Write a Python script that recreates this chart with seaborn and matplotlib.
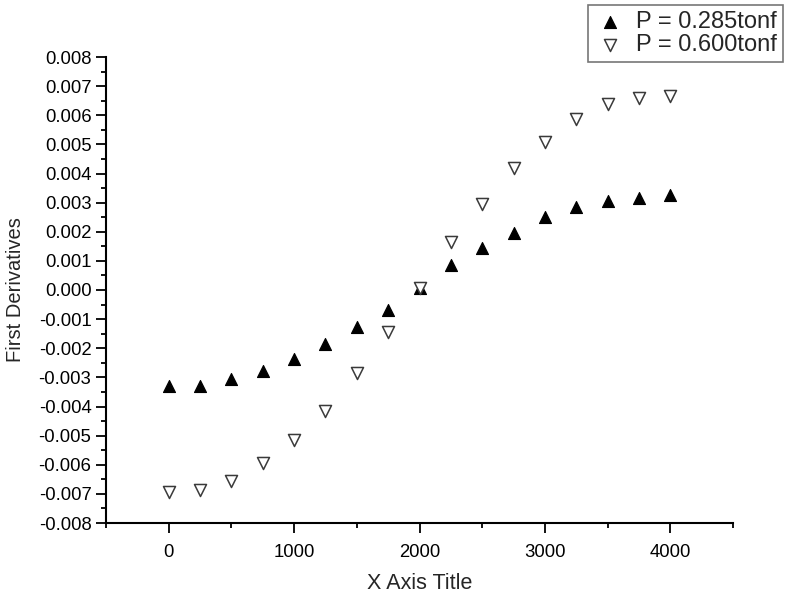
import matplotlib
matplotlib.use("Agg")
import matplotlib.pyplot as plt
import seaborn as sns
import pandas as pd
from matplotlib.ticker import MultipleLocator, FormatStrFormatter

x_values = [0, 250, 500, 750, 1000, 1250, 1500, 1750, 2000,
            2250, 2500, 2750, 3000, 3250, 3500, 3750, 4000]
p285 = [-0.00330, -0.00330, -0.00307, -0.00277, -0.00238, -0.00187, -0.00128,
        -0.00069, 0.00008, 0.00086, 0.00145, 0.00197, 0.00250, 0.00286,
        0.00306, 0.00317, 0.00326]
p600 = [-0.00695, -0.00687, -0.00656, -0.00595, -0.00515, -0.00415, -0.00284,
        -0.00143, 0.00008, 0.00166, 0.00295, 0.00418, 0.00509, 0.00586,
        0.00639, 0.00658, 0.00667]
labels = ["P = 0.285tonf", "P = 0.600tonf"]

sns.set_style("white")
plt.rcParams['font.family'] = ['Liberation Sans', 'DejaVu Sans']

fig = plt.figure(figsize=(7.85, 5.94), dpi=100)
ax = fig.add_axes([106/785, 1-523/594, (733-106)/785, (523-57)/594])

df1 = pd.DataFrame({"x": x_values, "y": p285})
df2 = pd.DataFrame({"x": x_values, "y": p600})
sns.scatterplot(data=df1, x="x", y="y", ax=ax, marker="^", s=75,
                color="black", edgecolor="black", linewidth=0.8, label=labels[0], zorder=3)
sns.scatterplot(data=df2, x="x", y="y", ax=ax, marker="v", s=75,
                facecolor="white", edgecolor="#3a3a3a", linewidth=1.1, label=labels[1], zorder=4)

ax.set_xlim(-500, 4500)
ax.set_ylim(-0.008, 0.008)
ax.xaxis.set_major_locator(MultipleLocator(1000))
ax.xaxis.set_minor_locator(MultipleLocator(500))
ax.yaxis.set_major_locator(MultipleLocator(0.001))
ax.yaxis.set_minor_locator(MultipleLocator(0.0005))
ax.yaxis.set_major_formatter(FormatStrFormatter('%.3f'))

for s in ["top", "right"]:
    ax.spines[s].set_visible(False)
for s in ["left", "bottom"]:
    ax.spines[s].set_linewidth(1.5)
    ax.spines[s].set_color("black")

ax.tick_params(which="major", direction="out", length=7, width=1.3, labelsize=13.3,
               left=True, bottom=True, colors="black")
ax.tick_params(which="minor", direction="out", length=3.5, width=1.3,
               left=True, bottom=True, colors="black")
ax.tick_params(axis="x", pad=8)
ax.set_xlabel("X Axis Title", fontsize=15.5, labelpad=9)
ax.set_ylabel("First Derivatives", fontsize=14.5, labelpad=10)

ax.legend_.remove()
h, l = ax.get_legend_handles_labels()
leg = fig.legend(h, l, loc="upper left", bbox_to_anchor=(588/785, 1-5/594),
                 frameon=True, fancybox=False, fontsize=17, borderaxespad=0,
                 handletextpad=0.4, borderpad=0.25, labelspacing=0.05,
                 handlelength=1.4)
leg.get_frame().set_edgecolor("#555555")
leg.get_frame().set_linewidth(1.2)

fig.savefig("out.png", dpi=100)
